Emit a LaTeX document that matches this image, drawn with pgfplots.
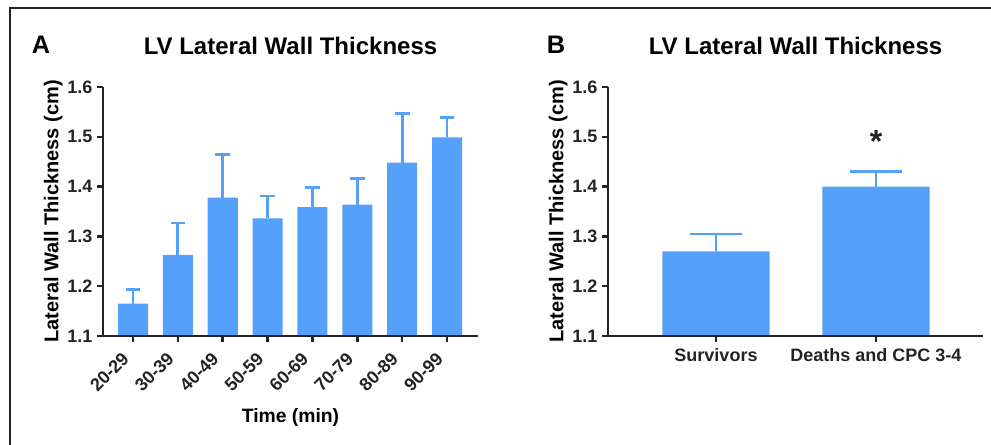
\documentclass[border=0pt]{standalone}
\usepackage{fontspec}
\setmainfont{Liberation Sans}
\usepackage{pgfplots}
\pgfplotsset{compat=1.18}
\definecolor{barblue}{RGB}{84,160,250}
\definecolor{axisgray}{RGB}{35,35,35}

\pgfplotsset{
  panel/.style={
    scale only axis, width=281.25pt, height=186.75pt,
    anchor=south west, axis on top,
    ymin=1.1, ymax=1.6, ytick={1.1,1.2,1.3,1.4,1.5,1.6},
    axis x line*=bottom, axis y line*=left,
    axis line style={axisgray, line width=1.9pt, -},
    tick style={axisgray, line width=1.9pt},
    tick align=outside, major tick length=4.5pt,
    /pgf/number format/assume math mode=true,
    yticklabel style={/pgf/number format/fixed, /pgf/number format/fixed zerofill,
      /pgf/number format/precision=1},
    ticklabel style={font=\bfseries\fontsize{13.5}{14}\selectfont, text=axisgray},
    ylabel={Lateral Wall Thickness (cm)},
    ylabel style={font=\bfseries\fontsize{15}{16}\selectfont, at={(axis description cs:-0.133,0.5)}, anchor=center},
    title={LV Lateral Wall Thickness},
    title style={font=\bfseries\fontsize{18}{20}\selectfont, at={(axis description cs:0.5,1)}, anchor=center, yshift=24.75pt},
  },
  bars/.style={ybar, bar width=0.67, fill=barblue, draw=none,
    error bars/.cd, y dir=plus, y explicit,
    error bar style={barblue, line width=2.1pt},
    error mark options={barblue, line width=2.1pt, mark size=#1, rotate=90}},
}

\begin{document}
\begin{tikzpicture}
\useasboundingbox (0,0) rectangle (743.25pt,-333.75pt);
\draw[axisgray, line width=1.5pt] (7.5pt,-333.75pt) -- (7.5pt,-6pt) -- (743.25pt,-6pt);
\node[font=\bfseries\fontsize{19}{20}\selectfont] at (30.75pt,-33.75pt) {A};
\node[font=\bfseries\fontsize{19}{20}\selectfont] at (417pt,-33.75pt) {B};

% panel A: by time
\begin{axis}[panel, at={(77.25pt,-252pt)},
  xmin=-0.669, xmax=7.69,
  xtick={0,...,7},
  xticklabels={20-29,30-39,40-49,50-59,60-69,70-79,80-89,90-99},
  xticklabel style={xshift=-3pt, yshift=-8pt, rotate=45, anchor=east},
  xlabel={Time (min)},
  xlabel style={font=\bfseries\fontsize{14.5}{15}\selectfont, at={(axis description cs:0.5,-0.329)}, anchor=center},
]
\addplot[bars=5.5pt] coordinates {
  (0,1.165) +- (0,0.028)
  (1,1.263) +- (0,0.064)
  (2,1.378) +- (0,0.087)
  (3,1.336) +- (0,0.045)
  (4,1.359) +- (0,0.039)
  (5,1.364) +- (0,0.053)
  (6,1.448) +- (0,0.099)
  (7,1.499) +- (0,0.039)
};
\end{axis}

% panel B: by outcome
\begin{axis}[panel, at={(456pt,-252pt)},
  xmin=-0.675, xmax=1.669,
  xtick={0,1},
  xticklabels={Survivors,Deaths and CPC 3-4},
  xticklabel style={yshift=-1.5pt},
]
\addplot[bars=19.5pt] coordinates {
  (0,1.270) +- (0,0.035)
  (1,1.400) +- (0,0.031)
};
\node[font=\bfseries\fontsize{24}{24}\selectfont, anchor=base, text=axisgray] at (axis cs:1,1.468) {*};
\end{axis}
\end{tikzpicture}
\end{document}
